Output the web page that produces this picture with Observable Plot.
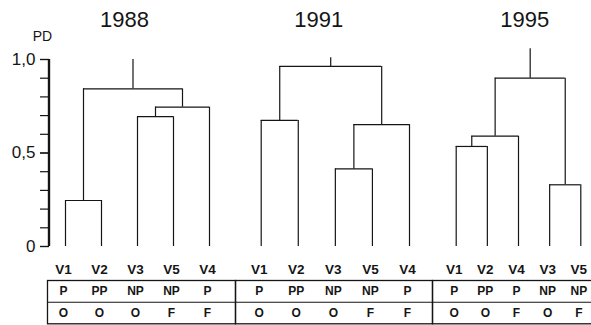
<!DOCTYPE html>
<html>
<head>
<meta charset="utf-8">
<script src="https://cdn.jsdelivr.net/npm/d3@7"></script>
<script src="https://cdn.jsdelivr.net/npm/@observablehq/plot@0.6"></script>
<style>
  html, body { margin: 0; padding: 0; background: #fff; }
  #row { display: flex; width: 591px; height: 325px; }
  #row svg { display: block; flex: none; }
</style>
</head>
<body>
<div id="row"></div>
<script>
// ---------- data ----------
const years = ["1988", "1991", "1995"];

const leaves1988 = ["V1", "V2", "V3", "V5", "V4"];
const leaves1991 = ["V1", "V2", "V3", "V5", "V4"];
const leaves1995 = ["V1", "V2", "V4", "V3", "V5"];

const status1988 = ["P", "PP", "NP", "NP", "P"];
const status1991 = ["P", "PP", "NP", "NP", "P"];
const status1995 = ["P", "PP", "P", "NP", "NP"];

const type1988 = ["O", "O", "O", "F", "F"];
const type1991 = ["O", "O", "O", "F", "F"];
const type1995 = ["O", "O", "F", "O", "F"];

// nested merges: [left, right, PD height]
const tree1988 = [["V1", "V2", 0.246], [["V3", "V5", 0.694], "V4", 0.745], 0.843];
const tree1991 = [["V1", "V2", 0.674], [["V3", "V5", 0.415], "V4", 0.652], 0.963];
const tree1995 = [[["V1", "V2", 0.535], "V4", 0.590], ["V3", "V5", 0.330], 0.900];

// top of root stem (PD)
const stemTops = [1.0, 1.01, 1.057];

const yTicksMajor = [0, 0.5, 1];
const yTicksMinor = [0, 0.1, 0.2, 0.3, 0.4, 0.5, 0.6, 0.7, 0.8, 0.9, 1.0];
const yTickLabels = ["0", "0,5", "1,0"];
const yAxisExtent = [0, 1];

// ---------- layout (style, not data) ----------
const panelLayout = [
  {width: 235, marginLeft: 49, range: [65, 209], titleDx: -8.6, first: true},
  {width: 197, marginLeft: 0, range: [25.7, 174], titleDx: -12},
  {width: 159, marginLeft: 0, range: [23.7, 148.3], titleDx: -5.5, last: true}
];

const datasets = [
  {leaves: leaves1988, status: status1988, type: type1988, tree: tree1988},
  {leaves: leaves1991, status: status1991, type: type1991, tree: tree1991},
  {leaves: leaves1995, status: status1995, type: type1995, tree: tree1995}
];

function layoutTree(tree, leaves) {
  const hs = [], vs = [];
  function rec(node) {
    if (typeof node === "string") return {x: leaves.indexOf(node), h: 0};
    const l = rec(node[0]), r = rec(node[1]), h = node[2];
    hs.push({x1: l.x, x2: r.x, y: h});
    vs.push({x: l.x, y1: l.h, y2: h});
    vs.push({x: r.x, y1: r.h, y2: h});
    return {x: (l.x + r.x) / 2, h};
  }
  const root = rec(tree);
  return {hs, vs, root};
}

const ink = "#151515";
const font = "'Liberation Sans', Arial, Helvetica, sans-serif";
const row = document.getElementById("row");

years.forEach((year, k) => {
  const P = panelLayout[k], D = datasets[k];
  const {hs, vs, root} = layoutTree(D.tree, D.leaves);
  vs.push({x: root.x, y1: root.h, y2: stemTops[k]});
  const idx = D.leaves.map((_, i) => i);
  const insetL = P.first ? -2 : 0;
  const insetR = P.last ? -2 : 0;
  const n = D.leaves.length - 1;
  const step = (P.range[1] - P.range[0]) / n;
  const txt = {lineAnchor: "middle", textAnchor: "middle", fill: ink};
  const axisX = (P.marginLeft - P.range[0]) / step; // data x at the frame's left edge

  const marks = [
    // dendrogram
    Plot.ruleY(hs, {x1: "x1", x2: "x2", y: "y", stroke: ink, strokeWidth: 1.2}),
    Plot.ruleX(vs, {x: "x", y1: "y1", y2: "y2", stroke: ink, strokeWidth: 1.2}),
    // title
    Plot.text([year], {x: [root.x], frameAnchor: "top", dy: -40, dx: P.titleDx,
      text: d => d, fontSize: 22, ...txt}),
    // leaf labels
    Plot.text(D.leaves, {x: idx, frameAnchor: "bottom", dy: 23, dx: -2,
      text: d => d, fontSize: 13.5, fontWeight: "bold", ...txt}),
    // table rows
    Plot.text(D.status, {x: idx, frameAnchor: "bottom", dy: 45, dx: -2,
      text: d => d, fontSize: 12, fontWeight: "bold", ...txt}),
    Plot.text(D.type, {x: idx, frameAnchor: "bottom", dy: 66.5, dx: -2,
      text: d => d, fontSize: 12, fontWeight: "bold", ...txt}),
    // table grid
    Plot.frame({insetTop: 221, insetBottom: -77.3, insetLeft: insetL, insetRight: insetR,
      stroke: ink, strokeWidth: 1.3}),
    Plot.ruleY([0], {dy: 55.7, insetLeft: insetL, insetRight: insetR, stroke: ink, strokeWidth: 1.1})
  ];

  if (P.first) {
    marks.push(
      Plot.axisY({ticks: yTicksMinor, tickSize: 9, tickFormat: () => "", label: null,
        stroke: ink, strokeWidth: 1.2}),
      Plot.axisY({ticks: yTicksMajor, tickSize: 9, tickPadding: 5, label: null,
        tickFormat: d => yTickLabels[yTicksMajor.indexOf(d)],
        fontSize: 17, stroke: ink, strokeWidth: 1.2, fill: ink}),
      Plot.text(["PD"], {frameAnchor: "top-left", dx: -7, dy: -23, text: d => d,
        fontSize: 14, ...txt}),
      // axis line as a thin filled rect (2px wide)
      Plot.rect([yAxisExtent], {x1: () => axisX, x2: () => axisX, y1: d => d[0], y2: d => d[1],
        insetLeft: -1.1, insetRight: -1.1, fill: ink})
    );
  }

  const svg = Plot.plot({
    width: P.width,
    height: 325,
    marginLeft: P.marginLeft,
    marginRight: 0,
    marginTop: 59,
    marginBottom: 79,
    x: {type: "linear", domain: [0, n], range: P.range, axis: null},
    y: {domain: [0, 1], axis: null, label: null},
    style: {fontFamily: font, background: "transparent", color: ink, overflow: "visible"},
    marks
  });

  // fallback: also draw the axis line through the plot's own scales
  if (P.first) {
    const sx = svg.scale("x"), sy = svg.scale("y");
    const px = sx.apply(axisX);
    d3.select(svg).append("line")
      .attr("x1", px).attr("x2", px)
      .attr("y1", sy.apply(yAxisExtent[0])).attr("y2", sy.apply(yAxisExtent[1]))
      .attr("stroke", ink).attr("stroke-width", 2.2);
  }
  row.appendChild(svg);
});
</script>
</body>
</html>
